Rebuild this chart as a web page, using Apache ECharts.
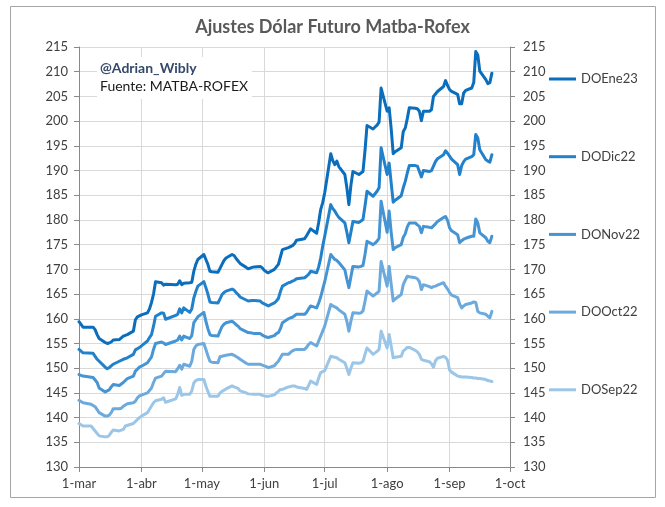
<!DOCTYPE html>
<html>
<head>
<meta charset="utf-8">
<script src="https://cdn.jsdelivr.net/npm/echarts@6/dist/echarts.min.js"></script>
<style>
html, body { margin: 0; padding: 0; background: #fff; }
#mainCanvas { width: 665px; height: 507px; }
</style>
</head>
<body>
<div id="mainCanvas"></div>
<script>
var myChart = echarts.init(document.getElementById("mainCanvas"));

var year = '2022-';
var monthNames = ['ene','feb','mar','abr','may','jun','jul','ago','sep','oct','nov','dic'];
var seriesNames = ['DOEne23', 'DODic22', 'DONov22', 'DOOct22', 'DOSep22'];
var colors = ['#0A6EBD', '#2281CB', '#4594D3', '#6CAADD', '#9CC6E8'];

// ajustes por fecha (mes-dia)
var doEne23 = [['03-01',159.4],['03-03',158.3],['03-08',158.3],['03-09',157.8],['03-10',156.8],['03-11',156],['03-14',155.2],['03-15',155],['03-16',155.1],['03-17',155.3],['03-18',155.7],['03-21',155.8],['03-23',156.5],['03-25',156.8],['03-28',157.5],['03-29',159.8],['03-30',160.4],['04-01',160.8],['04-04',161.2],['04-05',162],['04-06',163.3],['04-07',165],['04-08',167.5],['04-11',167.3],['04-12',166.8],['04-13',167],['04-18',166.9],['04-19',167],['04-20',167.7],['04-21',166.9],['04-22',167.2],['04-25',167.3],['04-26',167.4],['04-27',169.6],['04-28',171],['04-29',172],['05-02',173],['05-03',172],['05-04',171],['05-05',169.6],['05-06',169.5],['05-09',169.4],['05-10',170.2],['05-11',171],['05-12',171.8],['05-13',172.3],['05-16',173],['05-17',172.8],['05-18',172.2],['05-19',171.7],['05-20',171.2],['05-23',170.4],['05-24',170.1],['05-26',170.4],['05-27',170.5],['05-30',170.6],['05-31',170.3],['06-01',169.8],['06-02',169.5],['06-03',169.3],['06-06',170],['06-07',170.5],['06-08',171],['06-09',172.5],['06-10',174],['06-13',174.4],['06-14',174.6],['06-15',174.8],['06-16',175.2],['06-17',175.9],['06-21',176.2],['06-22',176.8],['06-23',177.5],['06-24',178.2],['06-27',177.3],['06-28',179.5],['06-29',182.1],['06-30',183.5],['07-01',185.5],['07-04',193.4],['07-05',192],['07-06',191.2],['07-07',191.9],['07-08',190.8],['07-11',189.2],['07-12',186.5],['07-13',183.1],['07-14',187],['07-15',189.8],['07-18',189.2],['07-19',189.5],['07-20',189.8],['07-21',194],['07-22',199.1],['07-25',198.4],['07-26',198.8],['07-27',199.2],['07-28',199.8],['07-29',206.7],['08-01',202],['08-02',202.7],['08-03',198.5],['08-04',193.4],['08-05',193.8],['08-08',194.6],['08-09',197.9],['08-10',198.6],['08-11',200.5],['08-12',202.7],['08-15',202.6],['08-16',202.5],['08-17',202],['08-18',200.1],['08-19',202],['08-22',202],['08-23',202.3],['08-24',205],['08-25',205.5],['08-26',206],['08-29',207],['08-30',208.2],['08-31',207.2],['09-01',206.4],['09-02',206],['09-05',205.4],['09-06',203.5],['09-07',203.5],['09-08',205.7],['09-09',206.2],['09-12',206.7],['09-13',207.8],['09-14',214.1],['09-15',213.4],['09-16',210.1],['09-19',208.4],['09-20',207.6],['09-21',207.8],['09-22',209.7]];

var doDic22 = [['03-01',153.8],['03-03',153.1],['03-08',153],['03-10',151.8],['03-14',150.2],['03-15',149.9],['03-16',150.1],['03-18',150.8],['03-21',151.4],['03-23',151.8],['03-25',152.1],['03-28',152.8],['03-29',153.7],['03-31',154.2],['04-01',154.5],['04-04',155.5],['04-05',156.2],['04-06',156.8],['04-07',158.5],['04-08',160.5],['04-11',161.2],['04-12',161.1],['04-13',159.9],['04-18',160.7],['04-19',160.9],['04-20',162],['04-21',161.2],['04-22',162.2],['04-25',161.3],['04-26',162],['04-27',164.2],['04-28',165.5],['04-29',166.6],['05-02',167.5],['05-03',166.3],['05-04',165],['05-05',163.4],['05-06',163.3],['05-09',163.2],['05-10',164],['05-11',164.9],['05-12',165.3],['05-13',165.6],['05-16',166],['05-17',165.8],['05-18',165.3],['05-19',164.9],['05-20',164.4],['05-23',163.8],['05-24',163.6],['05-26',163.7],['05-27',163.7],['05-30',163.6],['05-31',163.2],['06-01',163],['06-02',162.8],['06-03',162.6],['06-06',163.2],['06-07',163.6],['06-08',164.1],['06-09',165.5],['06-10',166.6],['06-13',167.3],['06-14',167.4],['06-15',167.6],['06-16',167.8],['06-17',168.1],['06-21',168.3],['06-22',168.6],['06-23',169],['06-24',169.6],['06-27',169.3],['06-28',170.5],['06-29',172.3],['06-30',174.7],['07-01',176.7],['07-04',183.1],['07-05',182.3],['07-06',181.8],['07-07',181.1],['07-08',180.5],['07-11',179.4],['07-12',177.5],['07-13',175.4],['07-14',177.5],['07-15',179.7],['07-18',179.5],['07-19',179.8],['07-20',180.1],['07-21',182.8],['07-22',185.8],['07-25',184.8],['07-26',185.3],['07-27',185.8],['07-28',186.5],['07-29',194.6],['08-01',189.2],['08-02',191.5],['08-03',187.5],['08-04',183.6],['08-05',184],['08-08',184.9],['08-09',186.5],['08-10',187.8],['08-11',189.5],['08-12',191],['08-15',191],['08-16',190.9],['08-17',189.8],['08-18',188.7],['08-19',190],['08-22',189.8],['08-23',190],['08-24',190.9],['08-25',191.8],['08-26',192.4],['08-29',193.2],['08-30',194],['08-31',193.5],['09-01',192.9],['09-02',192.3],['09-05',191.2],['09-06',189.2],['09-07',191],['09-08',191.8],['09-09',192.3],['09-12',192.8],['09-13',193.2],['09-14',197.3],['09-15',196.6],['09-16',194.2],['09-19',192.2],['09-20',191.9],['09-21',191.7],['09-22',193.2]];

var doNov22 = [['03-01',148.7],['03-03',148.4],['03-08',148.1],['03-10',147.1],['03-11',146],['03-14',145.2],['03-15',145.4],['03-16',145.6],['03-17',146.2],['03-18',146.7],['03-21',146.5],['03-23',147.1],['03-25',147.9],['03-28',148.4],['03-29',149.4],['03-31',150.2],['04-01',150.4],['04-04',151.1],['04-06',152.3],['04-07',153.8],['04-08',155],['04-11',155.3],['04-12',155.1],['04-13',154.8],['04-18',155.5],['04-19',155.7],['04-20',156.5],['04-21',155.7],['04-22',156.5],['04-25',156],['04-26',156.6],['04-27',159.2],['04-28',159.8],['04-29',160.4],['05-02',161.3],['05-03',159.5],['05-04',158],['05-05',156.8],['05-06',156.6],['05-09',156.5],['05-10',157.5],['05-11',158.4],['05-12',158.9],['05-13',159.2],['05-16',159.5],['05-17',159.2],['05-18',158.8],['05-19',158.5],['05-20',158],['05-23',157.4],['05-24',157.2],['05-26',157.1],['05-27',157],['05-30',157],['05-31',156.7],['06-01',156.5],['06-02',156.3],['06-03',156.2],['06-06',156.6],['06-07',157],['06-08',157.2],['06-09',158],['06-10',159.2],['06-13',160],['06-14',160.2],['06-15',160.3],['06-16',160.6],['06-17',160.9],['06-21',160.9],['06-22',161.3],['06-23',162],['06-24',162.6],['06-27',162.2],['06-28',163.2],['06-29',164.4],['06-30',166],['07-01',167.5],['07-04',173],['07-05',172.5],['07-06',172],['07-07',171.8],['07-08',171.4],['07-11',169.9],['07-12',168],['07-13',166.3],['07-14',168.5],['07-15',170.6],['07-18',170.5],['07-19',170.6],['07-20',170.8],['07-21',173],['07-22',175.7],['07-25',175],['07-26',175.3],['07-27',175.7],['07-28',176.3],['07-29',183.8],['08-01',177.5],['08-02',181.8],['08-03',177.5],['08-04',174],['08-05',174.4],['08-08',175],['08-09',176.5],['08-10',177.2],['08-11',178.6],['08-12',179.4],['08-15',179.4],['08-16',179],['08-17',178.7],['08-18',177.4],['08-19',178.7],['08-22',178.5],['08-23',178.4],['08-24',178.8],['08-25',179.2],['08-26',179.7],['08-29',180.5],['08-30',180.7],['08-31',179.9],['09-01',178.4],['09-02',177.8],['09-05',177],['09-06',175.4],['09-07',175.8],['09-08',176.1],['09-09',176.3],['09-12',176.7],['09-13',176.7],['09-14',180.2],['09-15',179.4],['09-16',177.4],['09-19',176.4],['09-20',175.7],['09-21',175.4],['09-22',176.7]];

var doOct22 = [['03-01',143.5],['03-03',143],['03-07',142.7],['03-09',142.2],['03-11',141],['03-14',140.3],['03-15',140.3],['03-16',140.5],['03-17',141],['03-18',141.8],['03-21',141.8],['03-22',141.9],['03-23',142.3],['03-25',142.8],['03-28',143],['03-29',143.3],['03-30',144],['03-31',144.4],['04-04',145],['04-06',146],['04-07',147.1],['04-08',148],['04-11',148.4],['04-12',148.9],['04-13',149.4],['04-18',149.3],['04-19',149.9],['04-20',150.6],['04-21',149.8],['04-22',150.8],['04-25',150.4],['04-26',151.4],['04-27',153.8],['04-28',154.5],['04-29',154.8],['05-02',155],['05-03',153.8],['05-04',152.5],['05-05',151.4],['05-06',151.2],['05-09',151.1],['05-10',152.3],['05-11',152.4],['05-13',152.6],['05-16',152.8],['05-17',152.6],['05-19',152.1],['05-20',151.8],['05-23',151],['05-24',150.8],['05-27',150.8],['05-30',150.8],['05-31',150.6],['06-02',150.3],['06-03',150.1],['06-06',150.5],['06-07',151],['06-08',151.4],['06-09',152.1],['06-10',152.8],['06-13',152.8],['06-14',153.2],['06-15',153.5],['06-16',153.7],['06-17',153.8],['06-21',153.8],['06-22',154.2],['06-23',154.8],['06-24',155.2],['06-27',154.5],['06-28',155.5],['06-29',156.5],['06-30',157.5],['07-01',158.5],['07-04',162.9],['07-05',162.6],['07-06',162.4],['07-07',162.2],['07-08',161.8],['07-11',160.9],['07-12',159.5],['07-13',157.5],['07-14',159.5],['07-15',161.2],['07-18',161.1],['07-19',161.2],['07-20',161.6],['07-21',163.5],['07-22',165.6],['07-25',164.6],['07-26',164.9],['07-27',165.2],['07-28',165.6],['07-29',171.6],['08-01',166.6],['08-02',170.6],['08-03',167],['08-04',163.6],['08-05',164],['08-08',164.9],['08-09',166.9],['08-10',167.8],['08-11',168.6],['08-12',168.5],['08-15',168.3],['08-16',168.1],['08-17',167.5],['08-18',165.9],['08-19',166.9],['08-22',166.5],['08-23',166.3],['08-24',166.5],['08-25',166.6],['08-26',166.8],['08-29',167.3],['08-30',166.6],['08-31',166],['09-01',165.3],['09-02',164.8],['09-05',164.3],['09-06',163],['09-07',162.2],['09-08',162.6],['09-09',162.9],['09-12',163.2],['09-13',163.4],['09-14',163.3],['09-15',161.5],['09-16',161.2],['09-19',160.9],['09-20',160.5],['09-21',160.2],['09-22',161.5]];

var doSep22 = [['03-01',138.8],['03-03',138.3],['03-07',138.3],['03-09',137.3],['03-11',136.3],['03-14',136.1],['03-15',136.1],['03-16',136.4],['03-17',137],['03-18',137.5],['03-21',137.3],['03-23',137.6],['03-24',138.3],['03-28',138.8],['03-29',139.2],['03-31',140],['04-01',140.3],['04-04',141],['04-05',141.7],['04-07',143],['04-08',143.4],['04-11',143.7],['04-12',144],['04-13',143.1],['04-18',143.8],['04-19',144.7],['04-20',146.1],['04-21',144.5],['04-22',144.7],['04-25',144.7],['04-26',145.4],['04-27',147],['04-28',147.5],['04-29',147.7],['05-02',147.7],['05-03',146.4],['05-04',145.3],['05-05',144.3],['05-06',144.3],['05-09',144.3],['05-10',145],['05-11',145.3],['05-13',145.8],['05-16',146.4],['05-17',146.2],['05-19',145.9],['05-20',145.4],['05-23',145],['05-24',144.8],['05-27',144.7],['05-30',144.7],['05-31',144.5],['06-02',144.3],['06-03',144.3],['06-06',144.6],['06-07',145],['06-08',145.3],['06-09',145.7],['06-10',145.7],['06-13',146.2],['06-14',146.3],['06-15',146.4],['06-16',146.4],['06-17',146.2],['06-21',145.9],['06-22',145.7],['06-23',146.5],['06-24',147.4],['06-27',146.7],['06-28',148],['06-29',149.1],['06-30',149.3],['07-01',149.5],['07-04',152.4],['07-05',152.3],['07-06',152.2],['07-07',152.1],['07-08',151.8],['07-11',151.1],['07-12',150],['07-13',148.7],['07-14',150],['07-15',151.1],['07-18',151],['07-19',151.1],['07-20',151.4],['07-21',152.8],['07-22',154.1],['07-25',152.8],['07-26',153.1],['07-27',153.4],['07-28',153.8],['07-29',157.5],['08-01',154.1],['08-02',156.8],['08-03',154.5],['08-04',152.1],['08-05',152.2],['08-08',152.4],['08-09',153.5],['08-10',153.8],['08-11',154.2],['08-12',154.2],['08-15',153.6],['08-16',153.3],['08-17',152.8],['08-18',151.8],['08-19',151.6],['08-22',151.3],['08-23',150.9],['08-24',150.2],['08-25',151.5],['08-26',152],['08-29',152.4],['08-30',152.2],['08-31',151.6],['09-01',149.6],['09-02',149.2],['09-05',148.4],['09-06',148.3],['09-07',148.2],['09-09',148.2],['09-12',148.1],['09-13',148],['09-14',148],['09-15',147.9],['09-16',147.9],['09-19',147.7],['09-20',147.5],['09-21',147.4],['09-22',147.3]];

var allData = [doEne23, doDic22, doNov22, doOct22, doSep22];

var fontName = 'Lato, "Liberation Sans", sans-serif';

function toSeries(rows, i) {
    return {
        name: seriesNames[i],
        type: 'line',
        showSymbol: false,
        symbol: 'none',
        data: rows.map(function (r) { return [year + r[0], r[1]]; }),
        lineStyle: { width: 3, color: colors[i], join: 'round', cap: 'round' },
        itemStyle: { color: colors[i] },
        z: 10 - i
    };
}

var option = {
    animation: false,
    backgroundColor: '#fff',
    textStyle: { fontFamily: fontName },
    title: {
        text: 'Ajustes Dólar Futuro Matba-Rofex',
        left: 'center',
        top: 13,
        textStyle: { fontSize: 18, fontWeight: 'bold', color: '#595959', fontFamily: fontName }
    },
    legend: {
        orient: 'vertical',
        left: 544,
        top: 67,
        icon: 'rect',
        itemWidth: 27,
        itemHeight: 3,
        itemGap: 63.7,
        data: seriesNames,
        textStyle: { fontSize: 13, color: '#404040', lineHeight: 14, fontFamily: fontName }
    },
    grid: { left: 79, right: 155, top: 47, bottom: 40, outerBoundsMode: 'none' },
    xAxis: {
        type: 'time',
        min: '2022-03-01',
        max: '2022-10-01',
        minInterval: 28 * 86400000,
        maxInterval: 31 * 86400000,
        axisLine: { show: true, lineStyle: { color: '#898989' } },
        axisTick: { show: true, length: 5, lineStyle: { color: '#898989' } },
        splitLine: { show: true, lineStyle: { color: '#d9d9d9' } },
        axisLabel: {
            fontSize: 13,
            color: '#404040',
            margin: 10,
            showMinLabel: true,
            showMaxLabel: true,
            hideOverlap: false,
            formatter: function (val) {
                var d = new Date(val);
                return d.getDate() + '-' + monthNames[d.getMonth()];
            }
        }
    },
    yAxis: [
        {
            type: 'value',
            min: 130,
            max: 215,
            interval: 5,
            axisLine: { show: true, lineStyle: { color: '#898989' } },
            axisTick: { show: true, length: 5, lineStyle: { color: '#898989' } },
            splitLine: { show: true, lineStyle: { color: '#d9d9d9' } },
            axisLabel: { fontSize: 13, color: '#404040', margin: 11 }
        },
        {
            type: 'value',
            position: 'right',
            min: 130,
            max: 215,
            interval: 5,
            axisLine: { show: true, lineStyle: { color: '#898989' } },
            axisTick: { show: true, length: 5, lineStyle: { color: '#898989' } },
            splitLine: { show: false },
            axisLabel: { fontSize: 13, color: '#404040', margin: 13 }
        }
    ],
    graphic: [
        {
            type: 'rect',
            shape: { x: 10.5, y: 6.5, width: 645, height: 491 },
            style: { fill: null, stroke: '#a6a6a6', lineWidth: 1 },
            silent: true
        },
        {
            type: 'rect',
            z: 50,
            shape: { x: 97, y: 57, width: 155, height: 42 },
            style: { fill: '#fff' },
            silent: true
        },
        {
            type: 'text',
            z: 51,
            left: 100,
            top: 61,
            style: { text: '@Adrian_Wibly', fill: '#34496A', font: 'bold 14px ' + fontName }
        },
        {
            type: 'text',
            z: 51,
            left: 100,
            top: 79,
            style: { text: 'Fuente: MATBA-ROFEX', fill: '#1a1a1a', font: '14px ' + fontName }
        }
    ],
    series: allData.map(toSeries)
};

myChart.setOption(option);
</script>
</body>
</html>
